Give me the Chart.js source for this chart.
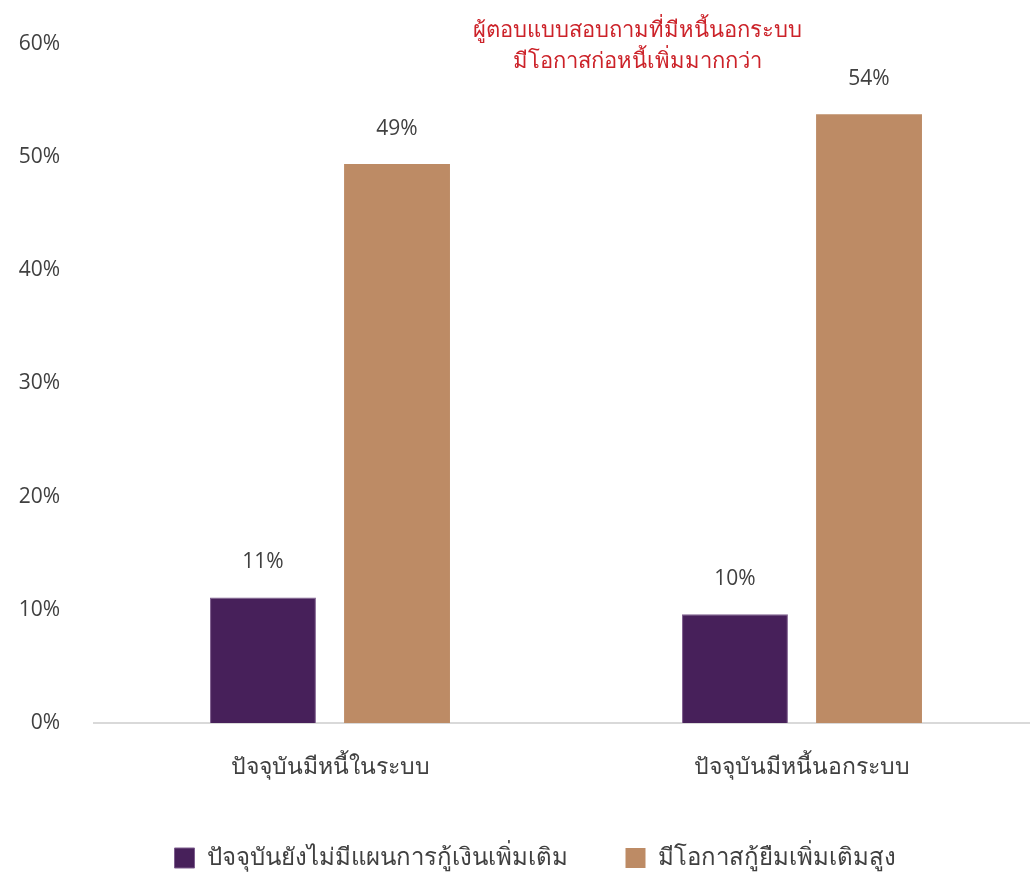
<!DOCTYPE html>
<html lang="th">
<head>
<meta charset="utf-8">
<script src="https://cdn.jsdelivr.net/npm/chart.js@4/dist/chart.umd.min.js"></script>
<style>
  html, body { margin: 0; padding: 0; background: #ffffff; overflow: hidden; }
  #wrap { position: relative; width: 1045px; height: 872px; }
</style>
</head>
<body>
<div id="wrap"><canvas id="chart"></canvas></div>
<script>
// Categories, series and tick labels
const categories = ['ปัจจุบันมีหนี้ในระบบ', 'ปัจจุบันมีหนี้นอกระบบ'];
const seriesNames = ['ปัจจุบันยังไม่มีแผนการกู้เงินเพิ่มเติม', 'มีโอกาสกู้ยืมเพิ่มเติมสูง'];
const noPlanValues = [11.1, 9.6];
const highChanceValues = [49.4, 53.8];
const yTicks = [0, 10, 20, 30, 40, 50, 60];
const noteLines = ['ผู้ตอบแบบสอบถามที่มีหนี้นอกระบบ', 'มีโอกาสก่อหนี้เพิ่มมากกว่า'];

const FONT = '"Open Sans", "Noto Sans", "DejaVu Sans", sans-serif';
const TEXT = '#404040';

// Percent labels above each bar
const valueLabels = {
  id: 'valueLabels',
  afterDatasetsDraw(chart) {
    const ctx = chart.ctx;
    ctx.save();
    ctx.font = '21px ' + FONT;
    ctx.fillStyle = TEXT;
    ctx.textAlign = 'center';
    ctx.textBaseline = 'middle';
    chart.data.datasets.forEach((ds, i) => {
      chart.getDatasetMeta(i).data.forEach((bar, j) => {
        ctx.fillText(Math.round(ds.data[j]) + '%', bar.x, bar.y - 35);
      });
    });
    ctx.restore();
  }
};

// Red two-line note at the top of the plot
const noteText = {
  id: 'noteText',
  afterDraw(chart) {
    const { ctx, chartArea } = chart;
    const cx = chartArea.left + (chartArea.right - chartArea.left) * 0.576;
    ctx.save();
    ctx.font = '22px ' + FONT;
    ctx.fillStyle = '#CC2229';
    ctx.textAlign = 'center';
    ctx.textBaseline = 'middle';
    noteLines.forEach((line, k) => ctx.fillText(line, cx, chartArea.top - 13 + k * 31));
    ctx.restore();
  }
};

// Nudge the bottom legend so it sits under the middle of the plot
const legendShift = {
  id: 'legendShift',
  afterLayout(chart) {
    const lg = chart.legend;
    if (lg) { lg.left += 16; lg.right += 16; }
  }
};

new Chart(document.getElementById('chart'), {
  type: 'bar',
  data: {
    labels: categories,
    datasets: [
      {
        label: seriesNames[0],
        data: noPlanValues,
        backgroundColor: '#47205A',
        borderColor: '#7E5E8E',
        borderWidth: 1,
        borderSkipped: 'bottom'
      },
      {
        label: seriesNames[1],
        data: highChanceValues,
        backgroundColor: '#BD8B65',
        borderWidth: 0
      }
    ]
  },
  options: {
    responsive: true,
    maintainAspectRatio: false,
    animation: false,
    categoryPercentage: 0.568,
    barPercentage: 0.79,
    layout: { padding: { top: 44, left: 0, right: 7, bottom: -8 } },
    plugins: {
      legend: {
        position: 'bottom',
        labels: {
          color: TEXT,
          font: { family: FONT, size: 24 },
          boxWidth: 20,
          boxHeight: 20,
          padding: 58
        }
      },
      tooltip: { enabled: false },
      title: { display: false }
    },
    scales: {
      x: {
        grid: { display: false, drawTicks: false },
        border: { display: true, color: '#D9D9D9', width: 2 },
        ticks: {
          color: TEXT,
          font: { family: FONT, size: 23 },
          padding: 31
        },
        afterFit(scale) { scale.height = 65; }
      },
      y: {
        min: 0,
        max: 60,
        afterBuildTicks(scale) { scale.ticks = yTicks.map(v => ({ value: v })); },
        grid: { display: false, drawTicks: false },
        border: { display: false },
        ticks: {
          color: TEXT,
          font: { family: FONT, size: 21 },
          padding: 34,
          callback: v => v + '%'
        },
        afterFit(scale) {
          scale.width = 94;
          scale.paddingTop = 0;
          scale.paddingBottom = 0;
        }
      }
    }
  },
  plugins: [valueLabels, noteText, legendShift]
});
</script>
</body>
</html>
